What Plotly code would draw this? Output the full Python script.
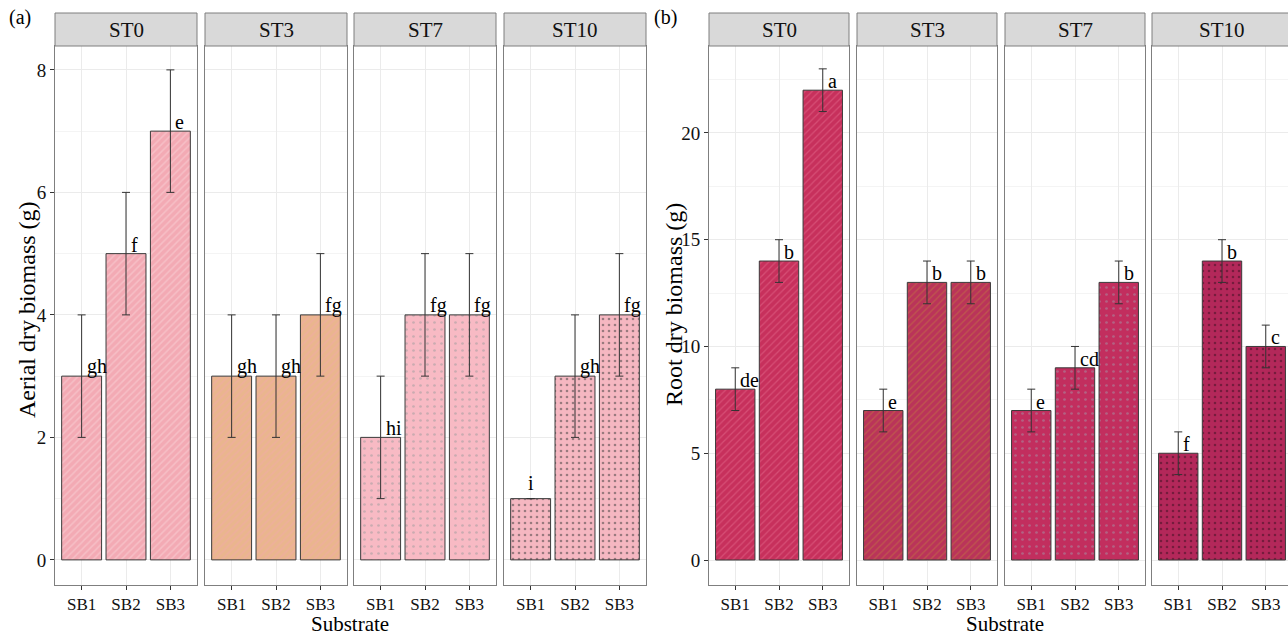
import plotly.graph_objects as go

W, H = 1288, 637

substrates = ["SB1", "SB2", "SB3"]
treatments = ["ST0", "ST3", "ST7", "ST10"]

# Panel (a): aerial dry biomass (g)
aerial_mean = {"ST0": [3, 5, 7], "ST3": [3, 3, 4], "ST7": [2, 4, 4], "ST10": [1, 3, 4]}
aerial_err = {"ST0": [1, 1, 1], "ST3": [1, 1, 1], "ST7": [1, 1, 1], "ST10": [0, 1, 1]}
aerial_lab = {"ST0": ["gh", "f", "e"], "ST3": ["gh", "gh", "fg"],
              "ST7": ["hi", "fg", "fg"], "ST10": ["i", "gh", "fg"]}

# Panel (b): root dry biomass (g)
root_mean = {"ST0": [8, 14, 22], "ST3": [7, 13, 13], "ST7": [7, 9, 13], "ST10": [5, 14, 10]}
root_err = {"ST0": [1, 1, 1], "ST3": [1, 1, 1], "ST7": [1, 1, 1], "ST10": [1, 1, 1]}
root_lab = {"ST0": ["de", "b", "a"], "ST3": ["e", "b", "b"],
            "ST7": ["e", "cd", "b"], "ST10": ["f", "b", "c"]}

styles_a = {
    "ST0": dict(color="#F3AAB4", shape="/", fg="#FAD3D8", size=5, sol=0.3),
    "ST3": dict(color="#EAB58E", shape="/", fg="#F2A9A8", size=5, sol=0.3),
    "ST7": dict(color="#F8BAC4", shape=".", fg="#9C9C9C", size=7, sol=0.12),
    "ST10": dict(color="#F5B7C1", shape=".", fg="#3E3E3E", size=6, sol=0.15),
}
styles_b = {
    "ST0": dict(color="#C7305C", shape="/", fg="#E56C8E", size=5, sol=0.25),
    "ST3": dict(color="#BA3459", shape="/", fg="#C27A40", size=5, sol=0.25),
    "ST7": dict(color="#C22E5E", shape=".", fg="#A296A8", size=7, sol=0.12),
    "ST10": dict(color="#B3285A", shape=".", fg="#3A1020", size=6, sol=0.15),
}

panels_px_a = [(55, 197), (205, 347), (354, 496), (504, 646)]
panels_px_b = [(709, 849), (857, 997), (1005, 1145), (1152, 1292)]
plot_top, plot_bot = 46, 585
strip_top = 13

def px(x):
    return x / W

def py(y):
    return 1 - y / H

FONT = "Liberation Serif, Times New Roman, serif"
fig = go.Figure()
layout = {}
shapes = []
annotations = []

groups = [
    (panels_px_a, aerial_mean, aerial_err, aerial_lab, styles_a, [-0.41, 8.39], 2, 1),
    (panels_px_b, root_mean, root_err, root_lab, styles_b, [-1.17, 24.07], 5, 2.5),
]

idx = 0
for g, (pan_px, means, errs, labs, styles, yr, dt, mdt) in enumerate(groups):
    for j, st in enumerate(treatments):
        idx += 1
        xa = "x" if idx == 1 else f"x{idx}"
        ya = "y" if idx == 1 else f"y{idx}"
        x0, x1 = pan_px[j]
        x1v = min(x1, W)
        xrange = [-0.6, -0.6 + (x1v - x0) * 3.2 / (x1 - x0)]
        s = styles[st]
        fig.add_trace(go.Bar(
            x=substrates, y=means[st], width=0.9,
            marker=dict(color=s["color"], line=dict(color="#3a3a3a", width=1),
                        pattern=dict(shape=s["shape"], fgcolor=s["fg"], size=s["size"],
                                     solidity=s["sol"], fillmode="overlay")),
            error_y=dict(type="data", array=errs[st], color="#333333", thickness=1, width=4,
                         visible=True),
            xaxis=xa, yaxis=ya, showlegend=False, hoverinfo="skip"))
        for k, sb in enumerate(substrates):
            if errs[st][k] > 0:
                annotations.append(dict(x=sb, y=means[st][k], xref=xa, yref=ya, text=labs[st][k],
                                        showarrow=False, xanchor="left", yanchor="bottom",
                                        xshift=3, yshift=-4,
                                        font=dict(family=FONT, size=20, color="#000")))
            else:
                annotations.append(dict(x=sb, y=means[st][k], xref=xa, yref=ya, text=labs[st][k],
                                        showarrow=False, xanchor="center", yanchor="bottom",
                                        yshift=3,
                                        font=dict(family=FONT, size=20, color="#000")))
        key_x = "xaxis" if idx == 1 else f"xaxis{idx}"
        key_y = "yaxis" if idx == 1 else f"yaxis{idx}"
        layout[key_x] = dict(domain=[px(x0), px(x1v)], anchor=ya, range=xrange,
                             type="category", showgrid=True, gridcolor="#EBEBEB", gridwidth=1,
                             showline=True, linecolor="#7F7F7F", linewidth=1, mirror=True,
                             ticks="outside", ticklen=4, tickcolor="#333",
                             tickfont=dict(family=FONT, size=17, color="#111"),
                             zeroline=False, fixedrange=True)
        layout[key_y] = dict(domain=[py(plot_bot), py(plot_top)], anchor=xa, range=yr,
                             tick0=0, dtick=dt, showgrid=True, gridcolor="#EBEBEB", gridwidth=1,
                             minor=dict(dtick=mdt, tick0=0, showgrid=True, gridcolor="#F4F4F4",
                                        gridwidth=1),
                             showline=True, linecolor="#7F7F7F", linewidth=1, mirror=True,
                             ticks="outside" if j == 0 else "", ticklen=4, tickcolor="#333",
                             showticklabels=(j == 0),
                             tickfont=dict(family=FONT, size=19, color="#111"),
                             zeroline=False, fixedrange=True)
        shapes.append(dict(type="rect", xref="paper", yref="paper",
                           x0=px(x0), x1=px(x1) if x1 <= W else 1.02,
                           y0=py(plot_top), y1=py(strip_top),
                           fillcolor="#D9D9D9", line=dict(color="#7F7F7F", width=1), layer="above"))
        annotations.append(dict(x=px((x0 + x1) / 2), y=py((strip_top + plot_top) / 2),
                                xref="paper", yref="paper", text=st, showarrow=False,
                                xanchor="center", yanchor="middle",
                                font=dict(family=FONT, size=21, color="#111")))

annotations += [
    dict(x=px(27), y=py(310), xref="paper", yref="paper",
         text="Aerial dry biomass (g)", textangle=-90, showarrow=False,
         xanchor="center", yanchor="middle", font=dict(family=FONT, size=24, color="#000")),
    dict(x=px(674), y=py(305), xref="paper", yref="paper",
         text="Root dry biomass (g)", textangle=-90, showarrow=False,
         xanchor="center", yanchor="middle", font=dict(family=FONT, size=24, color="#000")),
    dict(x=px(350), y=py(624), xref="paper", yref="paper", text="Substrate", showarrow=False,
         xanchor="center", yanchor="middle", font=dict(family=FONT, size=21, color="#000")),
    dict(x=px(1005), y=py(624), xref="paper", yref="paper", text="Substrate", showarrow=False,
         xanchor="center", yanchor="middle", font=dict(family=FONT, size=21, color="#000")),
    dict(x=px(20), y=py(18), xref="paper", yref="paper", text="(a)", showarrow=False,
         xanchor="center", yanchor="middle", font=dict(family=FONT, size=20, color="#000")),
    dict(x=px(666), y=py(18), xref="paper", yref="paper", text="(b)", showarrow=False,
         xanchor="center", yanchor="middle", font=dict(family=FONT, size=20, color="#000")),
]

fig.update_layout(width=W, height=H, margin=dict(l=0, r=0, t=0, b=0),
                  paper_bgcolor="white", plot_bgcolor="white", bargap=0.1,
                  shapes=shapes, annotations=annotations, showlegend=False, **layout)
fig.write_html("out.html", config={"displayModeBar": False},
               post_script="document.body.style.margin='0';document.body.style.overflow='hidden';")
